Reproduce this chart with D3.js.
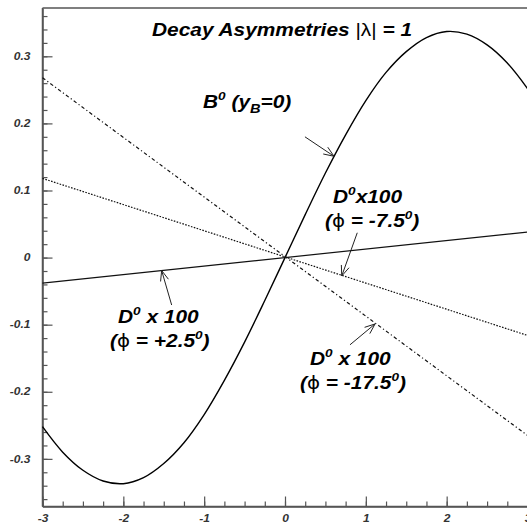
<!DOCTYPE html>
<html>
<head>
<meta charset="utf-8">
<script src="https://cdn.jsdelivr.net/npm/d3@7"></script>
<style>
  html, body { margin: 0; padding: 0; background: #fff; }
  svg { display: block; }
  text { font-family: "Liberation Sans", Arial, Helvetica, sans-serif; }
</style>
</head>
<body>
<svg id="chart" width="527" height="524"></svg>
<script>
// Proper time axis (in units of lifetime) and its tick labels
const xTicks = [-3, -2, -1, 0, 1, 2, 3];
const xTickLabels = ["-3", "-2", "-1", "0", "1", "2", "3"];
const yTicks = [-0.3, -0.2, -0.1, 0, 0.1, 0.2, 0.3];
const yTickLabels = ["-0.3", "-0.2", "-0.1", "0", "0.1", "0.2", "0.3"];

// B0 decay asymmetry (y_B = 0), sampled every 0.25
const bTimes = [-3, -2.75, -2.5, -2.25, -2, -1.75, -1.5, -1.25, -1, -0.75, -0.5, -0.25,
                0, 0.25, 0.5, 0.75, 1, 1.25, 1.5, 1.75, 2, 2.25, 2.5, 2.75, 3];
const bAsym = [-0.252, -0.290, -0.317, -0.333, -0.337, -0.328, -0.307, -0.276, -0.234,
               -0.183, -0.126, -0.064, 0, 0.064, 0.126, 0.183, 0.234, 0.276, 0.307,
               0.328, 0.337, 0.333, 0.317, 0.290, 0.252];

// D0 asymmetries (scaled x100) for three strong phases
const dTimes = [-3, 3];
const dPhiPlus25 = [-0.038, 0.038];
const dPhiMinus75 = [0.118, -0.116];
const dPhiMinus175 = [0.268, -0.265];

const svg = d3.select("#chart");
const W = 527, H = 524;
const plotLeft = 42.5, plotRight = 527.5, plotTop = 8, plotBottom = 506.5;

const x = d3.scaleLinear().domain([-3, 3]).range([plotLeft, plotRight]);
const y = d3.scaleLinear().domain([-0.371, 0.372]).range([plotBottom, plotTop]);

const axisColor = "#555";
const labelColor = "#333";
const labelStretch = 1.2;

// ---- frame and axes ----
svg.append("line")
  .attr("x1", plotLeft).attr("x2", W + 2).attr("y1", plotTop).attr("y2", plotTop)
  .attr("stroke", axisColor).attr("stroke-width", 1.5);

const minorY = d3.range(-0.36, 0.3601, 0.02).map(v => +v.toFixed(2));
const minorX = d3.range(-3, 3.001, 0.25).map(v => +v.toFixed(2));

function styleAxis(g) {
  g.select(".domain").attr("stroke", axisColor).attr("stroke-width", 1.5);
  g.selectAll(".tick line").attr("stroke", axisColor).attr("stroke-width", 1.2);
}

// y minor ticks
svg.append("g").attr("transform", `translate(${plotLeft},0)`)
  .call(d3.axisLeft(y).tickValues(minorY).tickSize(-5).tickSizeOuter(0).tickFormat(""))
  .call(styleAxis);
// y major ticks + labels
const yAxisG = svg.append("g").attr("transform", `translate(${plotLeft},0)`)
  .call(d3.axisLeft(y).tickValues(yTicks).tickSize(-10).tickSizeOuter(0).tickPadding(12)
    .tickFormat((d, i) => yTickLabels[i]))
  .call(styleAxis);
yAxisG.select(".domain").attr("d", `M0,${plotTop}V${plotBottom}`);

// x minor ticks
svg.append("g").attr("transform", `translate(0,${plotBottom})`)
  .call(d3.axisBottom(x).tickValues(minorX).tickSize(-5).tickSizeOuter(0).tickFormat(""))
  .call(styleAxis);
// x major ticks + labels
const xAxisG = svg.append("g").attr("transform", `translate(0,${plotBottom})`)
  .call(d3.axisBottom(x).tickValues(xTicks).tickSize(-10).tickSizeOuter(0).tickPadding(8.5)
    .tickFormat((d, i) => xTickLabels[i]))
  .call(styleAxis);
xAxisG.select(".domain").attr("d", `M${plotLeft},0H${W + 2}`);

[yAxisG, xAxisG].forEach(g => {
  g.selectAll(".tick text")
    .attr("fill", labelColor)
    .attr("font-size", 10)
    .attr("font-weight", "bold")
    .attr("font-style", "italic")
    .attr("font-family", "'Liberation Sans', Arial, sans-serif")
    .each(function () {
      const t = d3.select(this);
      const tx = +t.attr("x") || 0;
      t.attr("x", tx / labelStretch).attr("transform", `scale(${labelStretch},1)`);
    });
});

// ---- curves ----
const plot = svg.append("g");

const bLine = d3.line()
  .x((d, i) => x(bTimes[i]))
  .y(d => y(d))
  .curve(d3.curveCatmullRom.alpha(0.5));

plot.append("path")
  .datum(bAsym)
  .attr("d", bLine)
  .attr("fill", "none")
  .attr("stroke", "#000")
  .attr("stroke-width", 1.4);

const dLine = d3.line().x((d, i) => x(dTimes[i])).y(d => y(d));

plot.append("path").datum(dPhiPlus25).attr("d", dLine)
  .attr("fill", "none").attr("stroke", "#111").attr("stroke-width", 1.2);

plot.append("path").datum(dPhiMinus75).attr("d", dLine)
  .attr("fill", "none").attr("stroke", "#111").attr("stroke-width", 1.2)
  .attr("stroke-dasharray", "1.6,1.4");

plot.append("path").datum(dPhiMinus175).attr("d", dLine)
  .attr("fill", "none").attr("stroke", "#111").attr("stroke-width", 1.2)
  .attr("stroke-dasharray", "3.5,2.5,1.2,2.5");

// ---- annotation arrows (tail -> head, in data coordinates) ----
const arrows = [
  { tail: [0.247, 0.180], head: [0.606, 0.151] },
  { tail: [0.894, 0.037], head: [0.702, -0.0274] },
  { tail: [-1.402, -0.0707], head: [-1.526, -0.0193] },
  { tail: [0.804, -0.130], head: [1.114, -0.0989] }
];

const arrowG = svg.append("g")
  .attr("stroke", "#222").attr("stroke-width", 1).attr("fill", "none");

arrows.forEach(a => {
  const x0 = x(a.tail[0]), y0 = y(a.tail[1]);
  const x1 = x(a.head[0]), y1 = y(a.head[1]);
  const ang = Math.atan2(y1 - y0, x1 - x0);
  const len = 11, spread = 0.38;
  const b1 = [x1 - len * Math.cos(ang - spread), y1 - len * Math.sin(ang - spread)];
  const b2 = [x1 - len * Math.cos(ang + spread), y1 - len * Math.sin(ang + spread)];
  arrowG.append("path")
    .attr("d", `M${x0},${y0}L${x1},${y1}M${b1[0]},${b1[1]}L${x1},${y1}L${b2[0]},${b2[1]}`);
});

// ---- text labels ----
const textStretch = 1.16;

function label(px, py, parts, size) {
  const g = svg.append("g").attr("transform", `translate(${px},${py}) scale(${textStretch},1)`);
  const t = g.append("text")
    .attr("font-size", size)
    .attr("font-weight", "bold")
    .attr("font-style", "italic")
    .attr("fill", "#000");
  let shift = 0;
  parts.forEach(p => {
    const [str, kind] = p;
    const ts = t.append("tspan").text(str);
    let target = 0;
    if (kind === "sup") { target = -0.42 * size; ts.attr("font-size", size * 0.65); }
    else if (kind === "sub") { target = 0.3 * size; ts.attr("font-size", size * 0.7); }
    else if (kind === "greek") {
      ts.attr("font-weight", "normal").attr("font-style", "normal")
        .attr("font-family", "'DejaVu Sans', 'Liberation Sans', sans-serif")
        .attr("font-size", size * 0.95);
    } else if (kind === "plain") {
      ts.attr("font-weight", "normal").attr("font-style", "normal");
    }
    ts.attr("dy", target - shift);
    shift = target;
  });
}

label(152, 36, [["Decay Asymmetries ", ""], ["|λ|", "plain"], [" = 1", ""]], 18);

label(203, 108, [["B", ""], ["0", "sup"], [" (y", ""], ["B", "sub"], ["=0)", ""]], 18);

label(333, 203, [["D", ""], ["0", "sup"], ["x100", ""]], 18);
label(325, 227, [["(", ""], ["ϕ", "greek"], [" = -7.5", ""], ["0", "sup"], [")", ""]], 18);

label(118, 323, [["D", ""], ["0", "sup"], [" x 100", ""]], 18);
label(110, 347, [["(", ""], ["ϕ", "greek"], [" = +2.5", ""], ["0", "sup"], [")", ""]], 18);

label(310, 365, [["D", ""], ["0", "sup"], [" x 100", ""]], 18);
label(300, 389, [["(", ""], ["ϕ", "greek"], [" = -17.5", ""], ["0", "sup"], [")", ""]], 18);
</script>
</body>
</html>
